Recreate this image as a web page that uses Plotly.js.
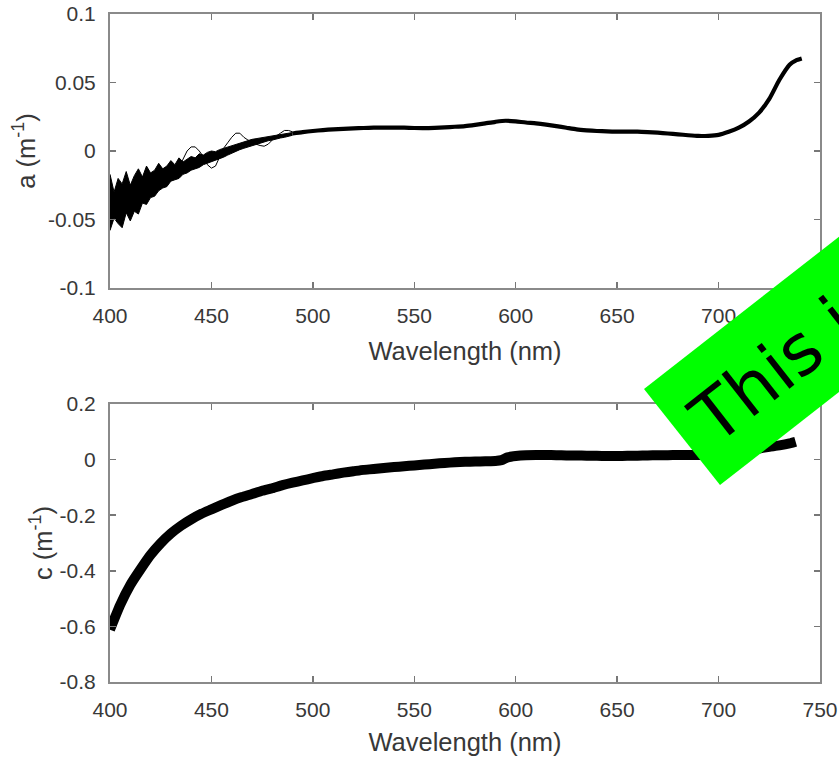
<!DOCTYPE html>
<html>
<head>
<meta charset="utf-8">
<script src="https://cdn.plot.ly/plotly-3.0.1.min.js"></script>
<style>html,body{margin:0;padding:0;background:#fff;}</style>
</head>
<body>
<div id="chart" style="width:839px;height:757px;"></div>
<script>
// ---- Data ----
// Absorption a (m^-1): noisy blue end, band envelope 400-490 nm (2 nm steps)
const wlHead = [400,402,404,406,408,410,412,414,416,418,420,422,424,426,428,430,432,434,436,438,440,442,444,446,448,450,452,454,456,458,460,462,464,466,468,470,472,474,476,478,480,482,484,486,488,490];
const aUpper = [-0.017,-0.030,-0.020,-0.024,-0.015,-0.025,-0.018,-0.013,-0.019,-0.011,-0.016,-0.014,-0.009,-0.013,-0.011,-0.007,-0.010,-0.005,-0.008,-0.006,-0.004,-0.005,-0.002,-0.003,-0.001,0.000,-0.0005,0.001,0.002,0.003,0.004,0.0045,0.0055,0.0065,0.0075,0.0085,0.009,0.0095,0.010,0.0105,0.011,0.0115,0.012,0.0125,0.013,0.0135];
const aLower = [-0.058,-0.049,-0.053,-0.056,-0.045,-0.051,-0.044,-0.046,-0.038,-0.039,-0.034,-0.033,-0.029,-0.027,-0.026,-0.022,-0.021,-0.020,-0.017,-0.016,-0.014,-0.013,-0.012,-0.010,-0.009,-0.008,-0.007,-0.0055,-0.0045,-0.003,-0.0015,-0.0005,0.001,0.002,0.003,0.004,0.005,0.006,0.007,0.0075,0.008,0.009,0.0095,0.010,0.011,0.0115];
// one wavy outlier spectrum
const wlOut = [430,432,434,436,438,440,442,444,446,448,450,452,454,456,458,460,462,464,466,468,470,472,474,476,478,480,482,484,486,488,490];
const aOut = [-0.017,-0.020,-0.012,-0.006,0.000,0.003,0.003,0.000,-0.004,-0.010,-0.0125,-0.011,-0.005,0.002,0.006,0.010,0.013,0.013,0.010,0.008,0.007,0.005,0.004,0.0035,0.005,0.008,0.011,0.013,0.015,0.015,0.014];
// the smooth part where all spectra overlap
const wlTail = [490,495,500,505,510,515,520,525,530,535,540,545,550,555,560,565,570,575,580,585,590,595,600,605,610,615,620,625,630,635,640,645,650,655,660,665,670,675,680,685,690,695,700,705,710,715,720,725,730,735,738,741];
const aTail = [0.0128,0.0138,0.0146,0.0153,0.0158,0.0162,0.0165,0.0168,0.0170,0.0171,0.0171,0.0170,0.0168,0.0167,0.0169,0.0173,0.0177,0.0182,0.0191,0.0202,0.0213,0.0221,0.0216,0.0208,0.0202,0.0193,0.0182,0.0170,0.0158,0.0151,0.0146,0.0143,0.0141,0.0141,0.0141,0.0138,0.0134,0.0128,0.0122,0.0115,0.0110,0.0111,0.0118,0.0140,0.0170,0.0215,0.0280,0.0380,0.0520,0.0630,0.0660,0.0675];

// Attenuation c (m^-1)
const wlC = [400,405,410,415,420,425,430,435,440,445,450,455,460,465,470,475,480,485,490,495,500,505,510,515,520,525,530,535,540,545,550,555,560,565,570,575,580,585,590,593,596,600,605,610,615,620,625,630,635,640,645,650,655,660,665,670,675,680,685,690,695,700,705,710,715,720,725,730,735,738];
const cVals = [-0.612,-0.523,-0.451,-0.395,-0.343,-0.301,-0.266,-0.238,-0.215,-0.195,-0.179,-0.163,-0.148,-0.135,-0.124,-0.112,-0.103,-0.092,-0.083,-0.075,-0.067,-0.059,-0.053,-0.047,-0.042,-0.037,-0.034,-0.030,-0.027,-0.024,-0.021,-0.018,-0.015,-0.012,-0.010,-0.008,-0.007,-0.006,-0.005,-0.002,0.008,0.013,0.016,0.0165,0.0165,0.016,0.015,0.0145,0.014,0.0135,0.013,0.013,0.0135,0.014,0.015,0.0155,0.016,0.0165,0.0165,0.0165,0.017,0.019,0.023,0.027,0.034,0.040,0.046,0.051,0.058,0.064];

// Tick labels
const xTickVals = [400,450,500,550,600,650,700,750];
const xTickText = ['400','450','500','550','600','650','700','750'];
const aTickVals = [-0.1,-0.05,0,0.05,0.1];
const aTickText = ['-0.1','-0.05','0','0.05','0.1'];
const cTickVals = [-0.8,-0.6,-0.4,-0.2,0,0.2];
const cTickText = ['-0.8','-0.6','-0.4','-0.2','0','0.2'];

const xTitle = 'Wavelength (nm)';
const aTitle = 'a (m<sup>-1</sup>)';
const cTitle = 'c (m<sup>-1</sup>)';
const bannerText = 'This is a sample figure';

// ---- Traces ----
const traces = [
  {x: wlHead, y: aLower, xaxis:'x', yaxis:'y', mode:'lines', line:{color:'#000', width:1}, hoverinfo:'skip'},
  {x: wlHead, y: aUpper, xaxis:'x', yaxis:'y', mode:'lines', line:{color:'#000', width:1}, fill:'tonexty', fillcolor:'#000', hoverinfo:'skip'},
  {x: wlOut, y: aOut, xaxis:'x', yaxis:'y', mode:'lines', line:{color:'#000', width:1}, hoverinfo:'skip'},
  {x: wlTail, y: aTail, xaxis:'x', yaxis:'y', mode:'lines', line:{color:'#000', width:4.2, shape:'spline', smoothing:0.6}, hoverinfo:'skip'},
  {x: wlC, y: cVals, xaxis:'x2', yaxis:'y2', mode:'lines', line:{color:'#000', width:10, shape:'spline', smoothing:0.5}, hoverinfo:'skip'}
];

const axisColor = '#8a8a8a';
const tickFont = {family:'Liberation Sans, Arial, sans-serif', size:21, color:'#383838'};
const titleFont = {family:'Liberation Sans, Arial, sans-serif', size:25.5, color:'#383838'};

function xAxis(anchor, standoff) {
  return {
    anchor: anchor, domain:[0,1], range:[400,750],
    tickmode:'array', tickvals:xTickVals, ticktext:xTickText,
    ticks:'inside', ticklen:6, tickwidth:1.5, tickcolor:'#777',
    showline:true, linecolor:axisColor, linewidth:2, mirror:'ticks',
    showgrid:false, zeroline:false, tickfont:tickFont, ticklabelstandoff:8,
    title:{text:xTitle, font:titleFont, standoff:standoff}
  };
}
function yAxis(anchor, domain, range, vals, text, title, standoff) {
  return {
    anchor: anchor, domain: domain, range: range,
    tickmode:'array', tickvals:vals, ticktext:text,
    ticks:'inside', ticklen:6, tickwidth:1.5, tickcolor:'#777',
    showline:true, linecolor:axisColor, linewidth:2, mirror:'ticks',
    showgrid:false, zeroline:false, tickfont:tickFont, ticklabelstandoff:8,
    title:{text:title, font:titleFont, standoff:standoff}
  };
}

// green banner (decoration over the figure), in paper coordinates
const bannerPath = 'M 0.75211 0.43862 L 0.85915 0.29491 L 1.30282 0.66317 L 1.19577 0.80689 Z';

const layout = {
  width:839, height:757,
  margin:{l:110, r:19, t:14, b:75},
  paper_bgcolor:'#fff', plot_bgcolor:'#fff',
  showlegend:false,
  font:{family:'Liberation Sans, Arial, sans-serif', color:'#383838'},
  xaxis: xAxis('y', 16),
  yaxis: yAxis('x', [0.5898,1], [-0.1,0.1], aTickVals, aTickText, aTitle, 5),
  xaxis2: xAxis('y2', 13),
  yaxis2: yAxis('x2', [0,0.4162], [-0.8,0.2], cTickVals, cTickText, cTitle, 0),
  shapes:[{type:'path', xref:'paper', yref:'paper', path:bannerPath,
           fillcolor:'#00ff00', line:{width:0}, layer:'above'}],
  annotations:[{
    xref:'paper', yref:'paper', x:0.79493, y:0.33234,
    xanchor:'left', yanchor:'bottom', showarrow:false,
    text: bannerText, textangle:-38,
    font:{family:'DejaVu Sans, sans-serif', size:70, color:'#000'},
    borderpad:0, borderwidth:0
  }]
};

Plotly.newPlot('chart', traces, layout, {displayModeBar:false, staticPlot:true});
</script>
</body>
</html>
